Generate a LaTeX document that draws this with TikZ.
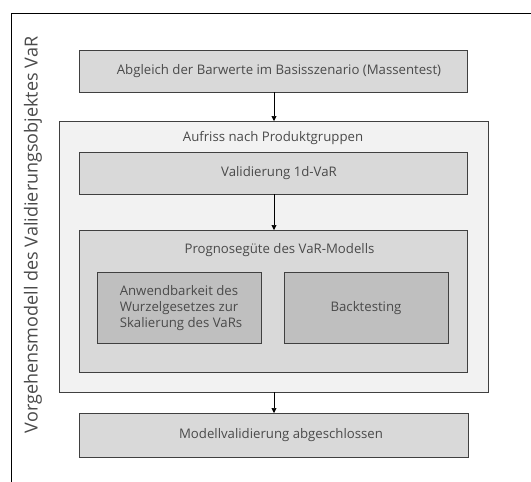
\documentclass[tikz,border=0pt]{standalone}
\usepackage{fontspec}
\setmainfont{Open Sans}
\usetikzlibrary{arrows.meta}
\definecolor{txt}{HTML}{4A4A4A}
\definecolor{boxa}{HTML}{D9D9D9}
\definecolor{boxb}{HTML}{F2F2F2}
\definecolor{boxc}{HTML}{BFBFBF}
\definecolor{edge}{HTML}{404040}
\tikzset{
  stepbox/.style={draw=edge, line width=1pt, fill=boxa},
  lbl/.style={text=txt, font=\fontsize{13.2}{16}\selectfont},
  conn/.style={draw=black, line width=0.6pt, -{Triangle[length=5pt,width=5pt]}},
}
\begin{document}
\begin{tikzpicture}[x=1pt,y=-1pt]
\useasboundingbox (0,0) rectangle (531,482);
\fill[white] (0,0) rectangle (531,482);
% outer frame (only top and left edges visible)
\draw[black, line width=1pt] (11.5,482) -- (11.5,13.5) -- (531,13.5);
\node[rotate=90, text=txt, font=\fontsize{18}{20}\selectfont] (title) at (33,235) {Vorgehensmodell des Validierungsobjektes VaR};
% Abgleich
\path[stepbox] (79,50) rectangle (467,92);
\node[lbl] (abgt) at (279,71) {Abgleich der Barwerte im Basisszenario (Massentest)};
\coordinate (abgB) at (274,92);
% Aufriss container
\path[draw=edge, line width=1pt, fill=boxb] (59,121) rectangle (488,392);
\coordinate (aufT) at (274,121);
\coordinate (aufB) at (274,392);
\node[lbl] (auft) at (273,138) {Aufriss nach Produktgruppen};
% Validierung 1d-VaR
\path[stepbox] (79,152) rectangle (467,194);
\node[lbl] (valt) at (279,173) {Validierung 1d-VaR};
\coordinate (valB) at (274,194);
% Prognoseguete
\path[stepbox] (79,230) rectangle (467,372);
\coordinate (proT) at (274,230);
\node[lbl] (prot) at (279.5,250) {Prognosegüte des VaR-Modells};
% inner boxes
\path[stepbox, fill=boxc] (97,272) rectangle (261,343);
\node[lbl, align=left] (anw) at (181,308) {Anwendbarkeit des\\Wurzelgesetzes zur\\Skalierung des VaRs};
\path[stepbox, fill=boxc] (284,272) rectangle (448,343);
\node[lbl] (back) at (366,308) {Backtesting};
% final box
\path[stepbox] (79,413) rectangle (468,457);
\coordinate (modT) at (274,413);
\node[lbl] (modt) at (281,435) {Modellvalidierung abgeschlossen};
% connectors
\draw[conn] (abgB) -- (aufT);
\draw[conn] (valB) -- (proT);
\draw[conn] (aufB) -- (modT);
\end{tikzpicture}
\end{document}
